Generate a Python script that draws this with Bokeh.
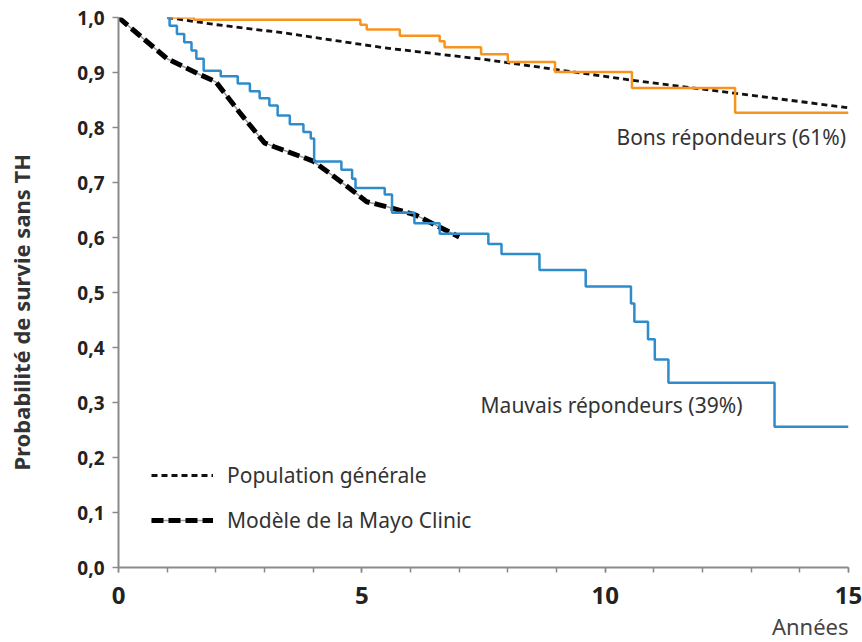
from bokeh.plotting import figure
from bokeh.models import FixedTicker, Legend, LegendItem, Label, Range1d, Title
from bokeh.embed import file_html
from bokeh.resources import INLINE

# ---------------- data ----------------
t_bons = [1.0, 1.55, 4.97, 5.1, 5.78, 6.6, 6.7, 7.45, 8.0, 8.97, 10.55, 12.67, 15.0]
s_bons = [1.0, 0.996, 0.987, 0.978, 0.967, 0.957, 0.946, 0.933, 0.919, 0.901, 0.872, 0.827, 0.827]

t_mauvais = [1.0, 1.05, 1.2, 1.35, 1.5, 1.6, 1.75, 2.1, 2.45, 2.7, 2.9, 3.1, 3.27, 3.52, 3.8,
             3.95, 4.02, 4.58, 4.8, 4.87, 5.47, 5.62, 6.08, 6.6, 7.6, 7.87, 8.65, 9.6, 10.53,
             10.6, 10.88, 11.02, 11.3, 13.48, 15.0]
s_mauvais = [1.0, 0.985, 0.97, 0.955, 0.94, 0.925, 0.903, 0.893, 0.88, 0.866, 0.853, 0.84, 0.822,
             0.806, 0.792, 0.78, 0.738, 0.723, 0.707, 0.69, 0.678, 0.645, 0.626, 0.607, 0.588,
             0.570, 0.541, 0.511, 0.48, 0.447, 0.415, 0.378, 0.336, 0.256, 0.256]

t_pop = [1.0, 2.0, 3.4, 5.45, 7.5, 10.55, 12.68, 15.0]
s_pop = [1.0, 0.987, 0.972, 0.945, 0.924, 0.886, 0.862, 0.836]

t_mayo = [0.0, 1.0, 1.7, 2.0, 2.5, 3.0, 3.2, 4.0, 4.8, 5.1, 5.6, 6.1, 7.0]
s_mayo = [1.0, 0.925, 0.895, 0.883, 0.826, 0.772, 0.765, 0.739, 0.686, 0.665, 0.654, 0.641, 0.601]

y_ticks = [0.0, 0.1, 0.2, 0.3, 0.4, 0.5, 0.6, 0.7, 0.8, 0.9, 1.0]
y_tick_labels = ["0,0", "0,1", "0,2", "0,3", "0,4", "0,5", "0,6", "0,7", "0,8", "0,9", "1,0"]
x_ticks = [0, 5, 10, 15]
x_minor = list(range(16))

label_bons = "Bons répondeurs (61%)"
label_mauvais = "Mauvais répondeurs (39%)"
label_pop = "Population générale"
label_mayo = "Modèle de la Mayo Clinic"
x_title = "Années"
y_title = "Probabilité de survie sans TH"

FONT = "Noto Sans"
ORANGE = "#F7941E"
BLUE = "#2E8BCC"
TXT = "#333333"

p = figure(width=862, height=642, output_backend="svg", toolbar_location=None,
           x_range=Range1d(0, 15), y_range=Range1d(0, 1.0),
           min_border_left=118, min_border_right=14, min_border_top=17, min_border_bottom=75)
p.outline_line_color = None
p.xgrid.visible = False
p.ygrid.visible = False

# curves
pop_r = p.line(t_pop, s_pop, line_color="#111111", line_width=2.8, line_dash="6 4")
mayo_bg = p.line(t_mayo, s_mayo, line_color="#9a9a9a", line_width=1.5)
mayo_fg = p.line(t_mayo, s_mayo, line_color="#000000", line_width=5, line_dash="12 5")
p.step(t_bons, s_bons, mode="after", line_color=ORANGE, line_width=2.5)
p.step(t_mauvais, s_mauvais, mode="after", line_color=BLUE, line_width=2.5)

legend = Legend(items=[LegendItem(label=label_pop, renderers=[pop_r]),
                       LegendItem(label=label_mayo, renderers=[mayo_bg, mayo_fg])],
                location=(33, 33), orientation="vertical",
                glyph_width=62, glyph_height=24, label_height=24, label_standoff=14,
                spacing=17, padding=0, margin=0,
                background_fill_alpha=0, border_line_color=None,
                label_text_font=FONT, label_text_font_size="21px", label_text_color=TXT)
p.add_layout(legend)

# annotations
p.add_layout(Label(x=14.95, y=0.783, text=label_bons, text_align="right", text_baseline="middle",
                   text_font=FONT, text_font_size="21px", text_color=TXT))
p.add_layout(Label(x=10.13, y=0.295, text=label_mauvais, text_align="center", text_baseline="middle",
                   text_font=FONT, text_font_size="21px", text_color=TXT))

# axes
AX = "#8a8a8a"
xa = p.xaxis[0]
xa.ticker = FixedTicker(ticks=x_ticks, minor_ticks=x_minor)
xa.axis_line_color = AX
xa.axis_line_width = 2
xa.major_tick_line_color = AX
xa.minor_tick_line_color = AX
xa.major_tick_line_width = 1.5
xa.minor_tick_line_width = 1.5
xa.major_tick_in = 0
xa.major_tick_out = 5
xa.minor_tick_in = 0
xa.minor_tick_out = 5
xa.major_label_text_font = FONT
xa.major_label_text_font_style = "bold"
xa.major_label_text_font_size = "24px"
xa.major_label_text_color = "#222222"
xa.major_label_standoff = 14

p.add_layout(Title(text=x_title, align="right", text_font=FONT, text_font_style="normal",
                   text_font_size="22px", text_color="#444444", standoff=4), "below")

ya = p.yaxis[0]
ya.ticker = FixedTicker(ticks=y_ticks, minor_ticks=[])
ya.major_label_overrides = {t: l for t, l in zip(y_ticks, y_tick_labels)}
ya.axis_line_color = AX
ya.axis_line_width = 2
ya.major_tick_line_color = AX
ya.major_tick_line_width = 1.5
ya.major_tick_in = 0
ya.major_tick_out = 6
ya.minor_tick_line_color = None
ya.major_label_text_font = FONT
ya.major_label_text_font_style = "bold"
ya.major_label_text_font_size = "19px"
ya.major_label_text_color = "#222222"
ya.major_label_standoff = 8
# blank spacer label to push the title outward
ya.axis_label = " "
ya.axis_label_text_font_size = "1px"
ya.axis_label_standoff = 33

p.add_layout(Title(text=y_title, align="left", offset=97, text_font=FONT, text_font_style="bold",
                   text_font_size="22px", text_color=TXT, standoff=4), "left")

open("out.html", "w").write(file_html(p, INLINE))
